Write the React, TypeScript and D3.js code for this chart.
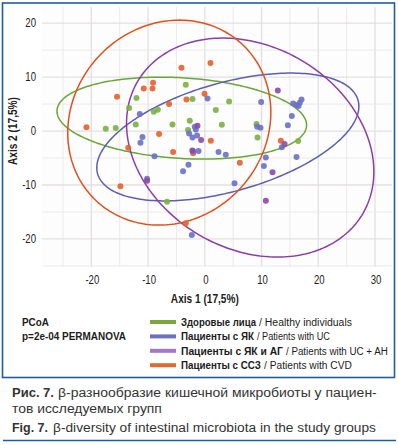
import React, { useLayoutEffect, useRef } from 'react';
import * as d3 from 'd3';

const legendRu = ['Здоровые лица', 'Пациенты с ЯК', 'Пациенты с ЯК и АГ', 'Пациенты с ССЗ'];
const legendEn = ['/ Healthy individuals', '/ Patients with UC', '/ Patients with UC + AH', '/ Patients with CVD'];
const legendRuW = [75, 73, 102, 80];
const legendEnX = [259, 257, 286, 264];
const legendEnEnd = [352, 330, 388, 352];

const healthyX = [-3.35, -12.05, -2.17, -13.35, -8.29, -9.0, -2.65, -12.17, -5.7, -17.46, -15.7, -2.95, 4.29, 1.94, 3.0, 9.12, 9.29, 16.46, -6.65];
const healthyY = [8.57, 6.11, 5.93, 4.26, 3.94, 3.57, 1.91, 1.24, 1.24, 0.43, 0.56, 0.19, 5.5, 3.89, 1.17, 1.3, -1.17, -1.85, -13.09];

const ucX = [-11.46, -1.76, -10.99, -11.34, -2.77, -2.17, -1.36, -8.87, -10.18, 0.48, 9.93, 15.57, 16.17, 16.75, 17.05, 16.53, 15.34, 9.22, 9.82, 14.64, -1.59, -1.11, -2.06, 2.42, 3.7, 13.58, 16.17, 10.76, -2.87, 10.41, -3.83, 5.24, -2.29];
const ucY = [3.15, 0.8, -1.11, -2.17, -0.43, -1.17, -0.8, -4.69, -8.83, 6.06, 5.37, 5.13, 4.81, 5.24, 5.87, 4.63, 2.78, 0.8, 0.61, 1.06, 0.31, -3.7, -3.76, -3.89, -4.39, -3.02, -4.81, -4.91, -6.24, -6.48, -7.46, -9.69, -19.26];

const ucahX = [-1.29, 12.87, -0.65, 14.06, -2.2, -10.18, 11.94, 10.76];
const ucahY = [0.98, 7.54, -1.67, -2.41, -3.6, -9.2, -7.65, -12.9];

const cvdX = [-4.11, 1.0, -9.12, -10.76, -9.22, -15.47, -0.05, -3.23, -6.3, -20.86, -8.06, 1.06, 13.4, -13.49, -5.59, -2.06, 6.17, -14.87, -3.35];
const cvdY = [11.72, 12.6, 8.94, 7.91, 7.91, 6.35, 6.91, 5.87, 5.0, 0.69, -0.56, -1.8, -1.8, -3.09, -3.89, -4.13, -5.87, -10.24, -17.09];

// ellipse parameters (data units): centre, half-extent x, half-extent y, correlation
const ellCX = [-4.06, 4.06, 8.0, -6.26];
const ellCY = [2.4, -1.1, -3.06, 1.57];
const ellSX = [22.0, 23.1, 21.8, 17.9];
const ellSY = [7.6, 11.85, 20.3, 19.0];
const ellRho = [-0.17, 0.48, -0.22, 0.1];

const xTicks = [-20, -10, 0, 10, 20, 30];
const yTicks = [-20, -10, 0, 10, 20];
const xGrid = [-25, -20, -15, -10, -5, 0, 5, 10, 15, 20, 25, 30];
const yGrid = [-25, -20, -15, -10, -5, 0, 5, 10, 15, 20];

const pointColors = ['#7bb040', '#6a70c4', '#8c4aa8', '#e5602a'];
const lineColors = ['#6aa636', '#5a5fb2', '#8a3ea6', '#e0501c'];
const swatchColors = ['#7aa63a', '#6b70bf', '#a677c4', '#e06a30'];

const SANS = "'Liberation Sans', Arial, sans-serif";

type FitProps = {
  x: number;
  y: number;
  width: number;
  rotate?: number;
  anchor?: 'start' | 'middle' | 'end';
  bold?: boolean;
  size: number;
  fill: string;
  children: React.ReactNode;
};

function FitText({ x, y, width, rotate = 0, anchor = 'start', bold = false, size, fill, children }: FitProps) {
  const ref = useRef<SVGTextElement>(null);
  useLayoutEffect(() => {
    const el = ref.current;
    if (!el) return;
    const w = el.getComputedTextLength();
    const s = w > 0 ? width / w : 1;
    el.setAttribute('transform', `translate(${x},${y}) rotate(${rotate}) scale(${s},1)`);
  });
  return (
    <text ref={ref} x={0} y={0} transform={`translate(${x},${y}) rotate(${rotate})`} textAnchor={anchor}
      fontFamily={SANS} fontWeight={bold ? 'bold' : 'normal'} fontSize={size} fill={fill}>
      {children}
    </text>
  );
}

export default function App() {
  const x = d3.scaleLinear().domain([-28.7, 33]).range([42, 392]);
  const y = d3.scaleLinear().domain([-25.2, 23]).range([267, 7]);

  const xs = [healthyX, ucX, ucahX, cvdX];
  const ys = [healthyY, ucY, ucahY, cvdY];

  const ellipses = ellCX.map((cx, i) => {
    const n = 240;
    const pts: [number, number][] = d3.range(n).map((k) => {
      const t = (k / n) * Math.PI * 2;
      const r = ellRho[i];
      const dx = cx + ellSX[i] * Math.cos(t);
      const dy = ellCY[i] + ellSY[i] * (r * Math.cos(t) + Math.sqrt(1 - r * r) * Math.sin(t));
      return [x(dx), y(dy)];
    });
    return d3.line().curve(d3.curveLinearClosed)(pts) as string;
  });

  const ellOrder = [0, 1, 2, 3];
  const ptOrder = [0, 3, 1, 2];
  const ink = '#1c1c1c';
  const cap = '#333';

  return (
    <svg width={398} height={445} style={{ position: 'absolute', left: 0, top: 0, background: '#fff' }}>
      <rect x={2.5} y={3} width={392} height={374.5} fill="#fff" stroke="#1f5aa6" strokeWidth={1.6} />
      <rect x={42} y={7} width={350} height={260} fill="#fdfdfd" />
      {xGrid.map((v) => (
        <line key={'xg' + v} x1={x(v)} x2={x(v)} y1={7} y2={267} stroke={v % 10 === 0 ? '#e3dfdf' : '#ece9e9'} strokeWidth={v % 10 === 0 ? 1.3 : 1} />
      ))}
      {yGrid.map((v) => (
        <line key={'yg' + v} x1={42} x2={392} y1={y(v)} y2={y(v)} stroke={v % 10 === 0 ? '#e3dfdf' : '#ece9e9'} strokeWidth={v % 10 === 0 ? 1.3 : 1} />
      ))}
      {ellOrder.map((i) => (
        <path key={'e' + i} d={ellipses[i]} fill="none" stroke={lineColors[i]} strokeWidth={1.5} />
      ))}
      {ptOrder.map((g) =>
        xs[g].map((vx, k) => (
          <circle key={'p' + g + '-' + k} cx={x(vx)} cy={y(ys[g][k])} r={3} fill={pointColors[g]} fillOpacity={0.9} />
        ))
      )}
      {yTicks.map((v) => (
        <text key={'yt' + v} transform={`translate(36,${y(v) + 4.3}) scale(0.8,1)`} textAnchor="end" fontFamily={SANS} fontSize={12} fill={ink}>{v}</text>
      ))}
      {xTicks.map((v) => (
        <text key={'xt' + v} transform={`translate(${x(v) + 1},284) scale(0.8,1)`} textAnchor="middle" fontFamily={SANS} fontSize={12} fill={ink}>{v}</text>
      ))}
      <FitText x={x(0)} y={303} width={68} anchor="middle" bold size={12} fill={ink}>Axis 1 (17,5%)</FitText>
      <FitText x={17} y={y(0)} rotate={-90} width={68} anchor="middle" bold size={12} fill={ink}>Axis 2 (17,5%)</FitText>
      <FitText x={22} y={326} width={27} bold size={11.5} fill={ink}>PCoA</FitText>
      <FitText x={22} y={340} width={104} bold size={11.5} fill={ink}>p=2e-04 PERMANOVA</FitText>
      {legendRu.map((t, i) => {
        const cy = 322 + i * 14.4;
        return (
          <g key={'lg' + i}>
            <line x1={150} x2={176} y1={cy} y2={cy} stroke={swatchColors[i]} strokeWidth={4} />
            <FitText x={181} y={cy + 4} width={legendRuW[i]} bold size={11.5} fill={ink}>{t}</FitText>
            <FitText x={legendEnX[i]} y={cy + 4} width={legendEnEnd[i] - legendEnX[i]} size={11.5} fill={ink}>{legendEn[i]}</FitText>
          </g>
        );
      })}
      <FitText x={12} y={397} width={42} bold size={13.5} fill={cap}>Рис. 7.</FitText>
      <FitText x={58} y={397} width={319} size={13.5} fill={cap}>β-разнообразие кишечной микробиоты у пациен-</FitText>
      <FitText x={12} y={413} width={150} size={13.5} fill={cap}>тов исследуемых групп</FitText>
      <FitText x={12} y={432} width={36} bold size={13.5} fill={cap}>Fig. 7.</FitText>
      <FitText x={53} y={432} width={323} size={13.5} fill={cap}>β-diversity of intestinal microbiota in the study groups</FitText>
      <line x1={3} x2={396} y1={440.5} y2={440.5} stroke="#1f5aa6" strokeWidth={1.5} />
    </svg>
  );
}
